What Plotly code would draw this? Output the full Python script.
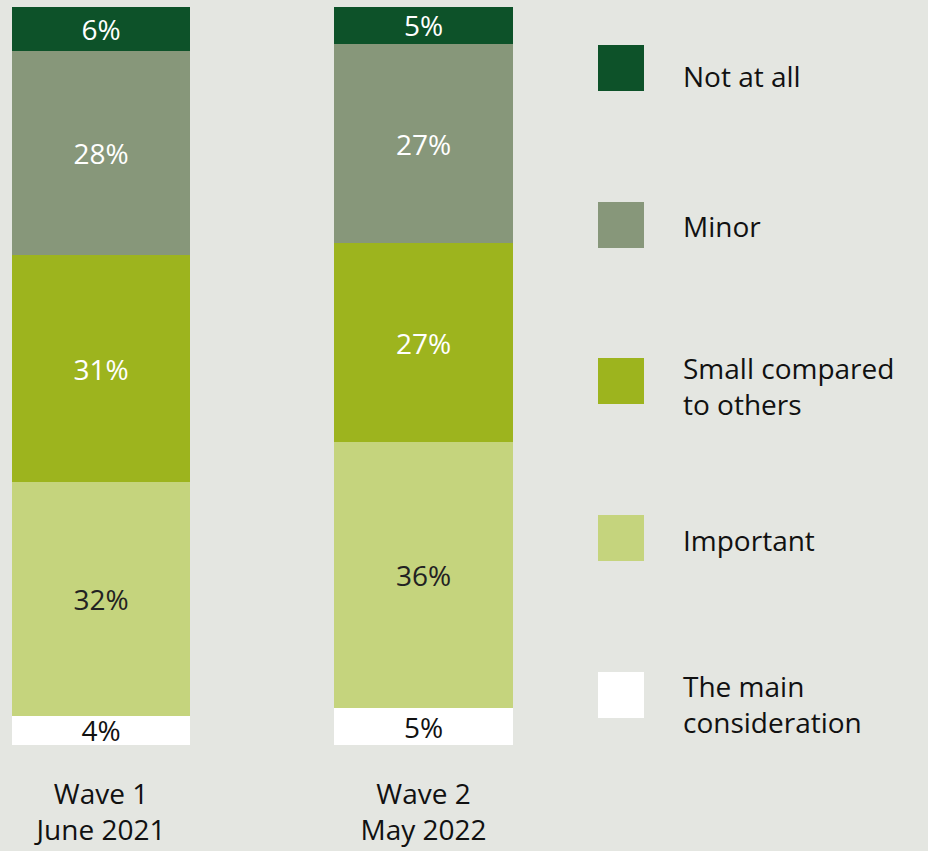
import plotly.graph_objects as go

waves = ["Wave 1<br>June 2021", "Wave 2<br>May 2022"]
categories = ["The main consideration", "Important", "Small compared to others", "Minor", "Not at all"]
legend_labels = ["The main<br>consideration", "Important", "Small compared<br>to others", "Minor", "Not at all"]
values = {
    "The main consideration": [4, 5],
    "Important": [32, 36],
    "Small compared to others": [31, 27],
    "Minor": [28, 27],
    "Not at all": [6, 5],
}
colors = ["#FFFFFF", "#C5D47D", "#9DB41E", "#87977A", "#0D5229"]
text_colors = ["#111111", "#222222", "#FFFFFF", "#FFFFFF", "#FFFFFF"]

W, H = 928, 851
T, B = 7, 106
FONT = "Open Sans, Noto Sans, sans-serif"
FS = 28

fig = go.Figure()
x = [0, 1]
for cat, col, tc in zip(categories, colors, text_colors):
    v = values[cat]
    fig.add_trace(go.Bar(
        x=x, y=v, name=cat, marker=dict(color=col, line=dict(width=0)),
        text=[f"{a}%" for a in v], textposition="inside", insidetextanchor="middle",
        textangle=0, constraintext="none",
        textfont=dict(color=tc, size=FS, family=FONT),
        width=0.552, showlegend=False, hoverinfo="skip",
    ))

def px_x(p):
    return p / W

def px_y(p):
    return (H - B - p) / (H - T - B)

shapes, annos = [], []
sq_tops = [672, 515, 358, 202, 45]
text_y = [704, 540, 386, 226, 76]
for col, lab, top, ty in zip(colors, legend_labels, sq_tops, text_y):
    shapes.append(dict(type="rect", xref="paper", yref="paper",
                       x0=px_x(598), x1=px_x(644), y0=px_y(top + 46), y1=px_y(top),
                       fillcolor=col, line=dict(width=0), layer="above"))
    annos.append(dict(xref="paper", yref="paper", x=px_x(681), y=px_y(ty),
                      xanchor="left", yanchor="middle", align="left", showarrow=False,
                      text=lab, font=dict(size=FS, color="#111111", family=FONT)))

fig.update_layout(
    width=W, height=H,
    margin=dict(l=0, r=0, t=T, b=B),
    barmode="stack", barnorm="percent",
    paper_bgcolor="#E4E6E1", plot_bgcolor="#E4E6E1",
    xaxis=dict(range=[-101 / 322.5, (W - 101) / 322.5], tickvals=x, ticktext=waves,
               showgrid=False, zeroline=False, showline=False, ticks="",
               ticklabelstandoff=30,
               tickfont=dict(size=FS, color="#111111", family=FONT), fixedrange=True),
    yaxis=dict(range=[0, 100], visible=False, fixedrange=True),
    shapes=shapes, annotations=annos, hovermode=False,
    uniformtext=dict(mode=False),
)

fig.write_html("out.html", config={"displayModeBar": False},
               post_script="document.body.style.margin='0';document.body.style.padding='0';")
